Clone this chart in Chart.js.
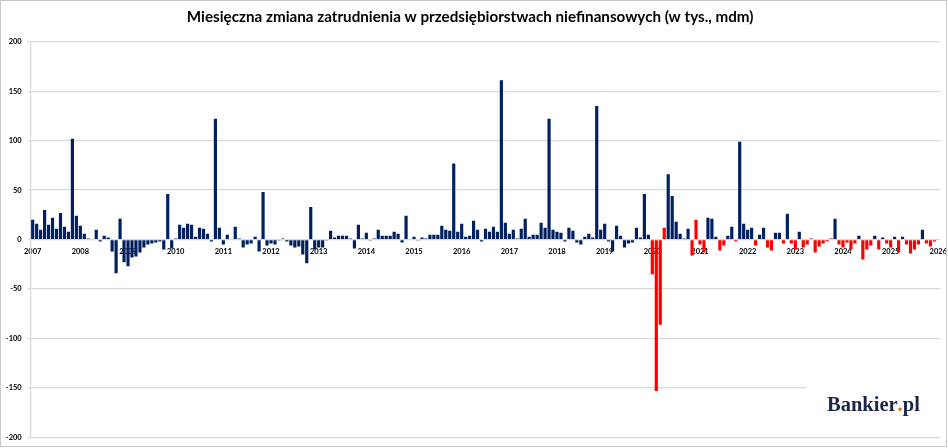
<!DOCTYPE html>
<html><head><meta charset="utf-8">
<script src="https://cdn.jsdelivr.net/npm/chart.js@4.4.1/dist/chart.umd.min.js"></script>
<style>html,body{margin:0;padding:0;background:#fff}#wrap{width:948px;height:448px;position:relative}</style>
</head><body><div id="wrap"><canvas id="c"></canvas></div>
<script>
const tytul = 'Miesięczna zmiana zatrudnienia w przedsiębiorstwach niefinansowych (w tys., mdm)';
const lata = ['2007','2008','2009','2010','2011','2012','2013','2014','2015','2016','2017','2018','2019','2020','2021','2022','2023','2024','2025','2026'];
const yTicks = [-200,-150,-100,-50,0,50,100,150,200];

// Seria granatowa (tys. osób, m/m), kolejne miesiące od 2007-01
const granat = [
  20,16,10,30,15,22,11,27,13,8,102,24,            // 2007
  14,6,1,0,10,-2,4,2,-12,-34,21,-23,              // 2008
  -27,-18,-17,-13,-8,-5,-4,-3,-2,-10,46,-9,       // 2009
  1,15,12,16,15,3,12,11,6,-2,122,12,              // 2010
  -5,5,0,13,1,-8,-5,-4,3,-12,48,-6,               // 2011
  -4,-5,-1,1,-2,-6,-8,-7,-15,-24,33,-10,          // 2012
  -8,-8,-1,9,2,4,4,4,1,-9,15,1,                   // 2013
  7,-1,1,10,4,4,4,8,6,-3,24,0,                    // 2014
  3,-1,2,1,5,5,5,14,10,9,77,8,                    // 2015
  16,3,4,19,10,-2,11,8,13,8,161,17,               // 2016
  6,10,1,11,21,3,5,5,17,12,122,10,                // 2017
  8,7,-2,12,9,-3,-5,3,6,2,135,10,                 // 2018
  16,-2,-12,14,4,-8,-4,-3,12,2,46,5,              // 2019
  null,null,null,null,66,44,18,6,1,11,null,null,  // 2020
  null,null,22,21,3,null,null,4,13,null,99,16,    // 2021
  10,12,null,5,12,null,null,7,7,null,26,null,     // 2022
  null,8,null,null,1,null,null,null,null,1,21,null, // 2023
  null,null,null,null,4,null,null,null,4,null,2,null, // 2024
  null,3,null,3,null,null,null,null,10,null,null,null, // 2025
  null                                            // 2026
];

// Seria czerwona
const czerwony = [
  null,null,null,null,null,null,null,null,null,null,null,null, // 2007
  null,null,null,null,null,null,null,null,null,null,null,null, // 2008
  null,null,null,null,null,null,null,null,null,null,null,null, // 2009
  null,null,null,null,null,null,null,null,null,null,null,null, // 2010
  null,null,null,null,null,null,null,null,null,null,null,null, // 2011
  null,null,null,null,null,null,null,null,null,null,null,null, // 2012
  null,null,null,null,null,null,null,null,null,null,null,null, // 2013
  null,null,null,null,null,null,null,null,null,null,null,null, // 2014
  null,null,null,null,null,null,null,null,null,null,null,null, // 2015
  null,null,null,null,null,null,null,null,null,null,null,null, // 2016
  null,null,null,null,null,null,null,null,null,null,null,null, // 2017
  null,null,null,null,null,null,null,null,null,null,null,null, // 2018
  null,null,null,null,null,null,null,null,null,null,null,null, // 2019
  -35,-153,-86,12,null,null,null,null,null,null,-16,20,        // 2020
  -5,-13,null,null,null,-11,-6,null,null,-2,null,null,         // 2021
  null,null,-6,null,null,-8,-11,null,null,-4,null,-4,          // 2022
  -10,null,-8,-5,null,-13,-7,-4,-2,null,null,-5,               // 2023
  -8,-3,-10,-4,null,-20,-10,-6,null,-10,null,-4,               // 2024
  -8,null,-13,null,-5,-14,-10,-5,null,-4,-7,-2,                // 2025
  null                                                         // 2026
];

const miesiace = [];
lata.forEach((y, k) => {
  if (k < lata.length - 1) {
    for (let m = 1; m <= 12; m++) miesiace.push(y + '-' + String(m).padStart(2, '0'));
  } else {
    miesiace.push(y + '-01');
  }
});

const NAVY = '#002060', RED = '#ff0000', GRID = '#d9d9d9';

const decor = {
  id: 'decor',
  afterDraw(chart) {
    const ctx = chart.ctx;
    ctx.save();
    ctx.fillStyle = '#ffffff';
    ctx.fillRect(806, 384, 136, 38);
    ctx.font = 'bold 20.5px "Liberation Serif"';
    ctx.textBaseline = 'alphabetic';
    ctx.textAlign = 'left';
    let x = 827, y = 410.5;
    const parts = [['Bankier', '#1b2547'], ['.', '#f26a21'], ['pl', '#1b2547']];
    parts.forEach(([t, c]) => { ctx.fillStyle = c; ctx.fillText(t, x, y); x += ctx.measureText(t).width; });
    ctx.strokeStyle = '#c8c8c8';
    ctx.lineWidth = 1;
    ctx.strokeRect(0.5, 0.5, 946, 446);
    ctx.restore();
  }
};

new Chart(document.getElementById('c'), {
  type: 'bar',
  data: {
    labels: miesiace,
    datasets: [
      { label: 'granat', data: granat, backgroundColor: NAVY, grouped: false, barPercentage: 0.8, categoryPercentage: 1 },
      { label: 'czerwony', data: czerwony, backgroundColor: RED, grouped: false, barPercentage: 0.8, categoryPercentage: 1 }
    ]
  },
  options: {
    responsive: true, maintainAspectRatio: false, animation: false,
    layout: { padding: { left: 0, right: 7.7, top: 0, bottom: 8.7 } },
    plugins: {
      legend: { display: false }, tooltip: { enabled: false },
      title: { display: true, text: tytul, color: '#000',
        font: { family: 'Lato', size: 15.2, weight: 'bold', lineHeight: 1.2 },
        padding: { top: 7.5, bottom: 15.95 } }
    },
    scales: {
      x: {
        type: 'category', position: { y: 0 }, offset: true,
        grid: { display: false, drawTicks: false }, border: { display: false },
        ticks: {
          autoSkip: false, maxRotation: 0, minRotation: 0, padding: 7, color: '#000',
          font: { family: 'Lato', size: 7.5, weight: 'bold' },
          callback: function (v) { const l = this.getLabelForValue(v); return l.endsWith('-01') ? l.slice(0, 4) : ''; }
        },
        afterFit(s) { s.paddingLeft = 0; s.paddingRight = 0; }
      },
      y: {
        min: -200, max: 200,
        afterBuildTicks(s) { s.ticks = yTicks.map(v => ({ value: v })); },
        ticks: { padding: 6, color: '#000', font: { family: 'Lato', size: 7.5, weight: 'bold' } },
        grid: { color: GRID, lineWidth: 1.3, tickLength: 3 },
        border: { display: true, color: GRID, width: 1.3 },
        afterFit(s) { s.width = 30.7; }
      }
    }
  },
  plugins: [decor]
});
</script>
</body></html>
